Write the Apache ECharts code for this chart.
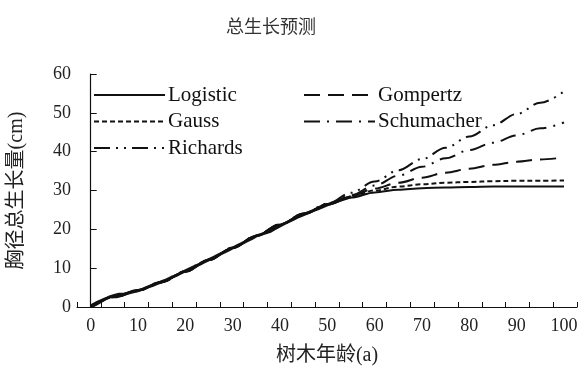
<!DOCTYPE html>
<html>
<head>
<meta charset="utf-8">
<script src="https://cdn.jsdelivr.net/npm/echarts@6/dist/echarts.min.js"></script>
<style>
  html, body { margin: 0; padding: 0; background: #fff; }
  #chart { width: 586px; height: 369px; }
</style>
</head>
<body>
<div id="chart"></div>
<script>
// Tree age (years) at which the fitted models are sampled
const ages = [0, 5, 10, 15, 20, 25, 30, 35, 40, 45, 50, 55, 60, 65, 70, 75, 80, 85, 90, 95, 100];

// Fitted cumulative DBH growth (cm) per model
const logistic   = [0.4, 2.7, 4.4, 6.5, 9.1, 12.1, 15.2, 18.3, 21.2, 23.9, 26.3, 28.2, 29.5, 30.2, 30.6, 30.8, 30.9, 31.0, 31.0, 31.0, 31.0];
const gauss      = [0.3, 2.6, 4.3, 6.4, 9.1, 12.1, 15.2, 18.3, 21.2, 24.0, 26.4, 28.4, 30.0, 31.0, 31.6, 32.0, 32.2, 32.4, 32.5, 32.5, 32.6];
const gompertz   = [0.2, 2.5, 4.2, 6.4, 9.1, 12.1, 15.2, 18.3, 21.2, 24.0, 26.4, 28.6, 30.5, 32.0, 33.3, 34.6, 35.6, 36.6, 37.4, 38.0, 38.5];
const schumacher = [0.0, 2.5, 4.2, 6.4, 9.2, 12.2, 15.3, 18.4, 21.3, 24.1, 26.5, 28.8, 31.3, 33.8, 36.1, 38.3, 40.4, 42.3, 44.2, 46.0, 47.5];
const richards   = [0.0, 2.6, 4.3, 6.5, 9.2, 12.2, 15.3, 18.4, 21.3, 24.1, 26.6, 29.4, 32.3, 35.2, 38.1, 41.0, 43.9, 46.8, 49.7, 52.6, 55.5];

// Measured growth from stem analysis, yearly (age 0..55)
const measuredAges = [0,1,2,3,4,5,6,7,8,9,10,11,12,13,14,15,16,17,18,19,20,21,22,23,24,25,26,27,28,29,30,31,32,33,34,35,36,37,38,39,40,41,42,43,44,45,46,47,48,49,50,51,52,53,54,55];
const measured = [0,0.6,1.3,2.0,2.6,3.0,3.3,3.3,3.6,3.9,4.2,4.6,5.1,5.5,6.0,6.5,7.0,7.6,8.1,8.7,9.3,9.9,10.5,11.0,11.6,12.2,12.8,13.4,14.0,14.6,15.2,15.8,16.4,17.0,17.6,18.3,18.7,19.1,19.5,20.2,20.9,21.5,22.1,22.7,23.3,23.8,24.3,24.8,25.3,25.8,26.3,26.8,27.2,27.6,28.0,28.4];

// Axis labels
const xTickLabels = [0, 10, 20, 30, 40, 50, 60, 70, 80, 90, 100];
const yTickLabels = [0, 10, 20, 30, 40, 50, 60];

const serif = '"Liberation Serif", "Times New Roman", "Noto Sans CJK SC", serif';
const cjk = '"Liberation Serif", "Noto Sans CJK SC", sans-serif';
const ink = '#111';

const pairs = (xs, ys) => xs.map((x, i) => [x, ys[i]]);

const models = [
  { name: 'Logistic',   values: logistic,   dash: 'solid' },
  { name: 'Gauss',      values: gauss,      dash: [5, 3] },
  { name: 'Gompertz',   values: gompertz,   dash: [16, 8] },
  { name: 'Schumacher', values: schumacher, dash: [16, 7, 2, 7] },
  { name: 'Richards',   values: richards,   dash: [16, 6, 2, 6, 2, 6] }
];

const series = models.map(m => ({
  name: m.name,
  type: 'line',
  xAxisIndex: 0,
  yAxisIndex: 0,
  data: pairs(ages, m.values),
  smooth: 0.35,
  smoothMonotone: 'x',
  symbol: 'none',
  lineStyle: { color: ink, width: 2, type: m.dash },
  itemStyle: { color: ink },
  silent: true
}));

series.push({
  name: 'measured',
  type: 'line',
  xAxisIndex: 0,
  yAxisIndex: 0,
  data: pairs(measuredAges, measured),
  symbol: 'none',
  lineStyle: { color: ink, width: 3 },
  silent: true
});

const legendCommon = {
  orient: 'vertical',
  padding: 0,
  itemWidth: 71,
  itemHeight: 14,
  itemGap: 4.5,
  itemStyle: { opacity: 0 },
  textStyle: { fontFamily: serif, fontSize: 21, color: ink, lineHeight: 22, padding: [0, 0, 0, -2] },
  inactiveColor: ink,
  selectedMode: false
};

const chart = echarts.init(document.getElementById('chart'), null, { renderer: 'canvas' });
chart.setOption({
  animation: false,
  backgroundColor: '#fff',
  title: {
    text: '总生长预测',
    left: 266,
    top: 12,
    textAlign: 'center',
    textStyle: { fontFamily: '"Noto Sans CJK SC", sans-serif', fontSize: 18, fontWeight: 'normal', color: '#333' }
  },
  grid: { left: 77, right: 9, top: 74, bottom: 62, containLabel: false, outerBoundsMode: 'none' },
  legend: [
    Object.assign({}, legendCommon, { left: 93, top: 84, data: ['Logistic', 'Gauss', 'Richards'] }),
    Object.assign({}, legendCommon, { left: 303, top: 84, data: ['Gompertz', 'Schumacher'] })
  ],
  xAxis: [
    {
      type: 'value',
      min: -2.894,
      max: 102.75,
      position: 'bottom',
      name: '树木年龄(a)',
      nameLocation: 'middle',
      nameGap: 39,
      nameTextStyle: { fontFamily: cjk, fontSize: 20, color: '#222' },
      axisLine: { show: false },
      axisTick: { show: false },
      splitLine: { show: false },
      axisLabel: {
        customValues: xTickLabels,
        margin: 10,
        fontFamily: serif,
        fontSize: 18,
        color: '#222'
      }
    },
    {
      // minor tick ruler along the bottom edge
      type: 'value',
      min: 0,
      max: 105,
      interval: 5,
      position: 'bottom',
      axisLine: { show: true, lineStyle: { color: ink, width: 1.2 } },
      axisTick: { show: true, inside: true, length: 5, lineStyle: { color: ink, width: 1 } },
      axisLabel: { show: false },
      splitLine: { show: false }
    }
  ],
  yAxis: {
    type: 'value',
    min: 0,
    max: 60,
    interval: 10,
    name: '胸径总生长量(cm)',
    nameLocation: 'middle',
    nameRotate: 90,
    nameGap: 50,
    nameTextStyle: { fontFamily: cjk, fontSize: 20, color: '#222' },
    axisLine: { show: true, lineStyle: { color: ink, width: 1.2 } },
    axisTick: { show: true, inside: true, length: 6, lineStyle: { color: ink, width: 1 } },
    axisLabel: {
      customValues: yTickLabels,
      margin: 6,
      fontFamily: serif,
      fontSize: 18,
      color: '#222'
    },
    splitLine: { show: false }
  },
  series: series
});
</script>
</body>
</html>
